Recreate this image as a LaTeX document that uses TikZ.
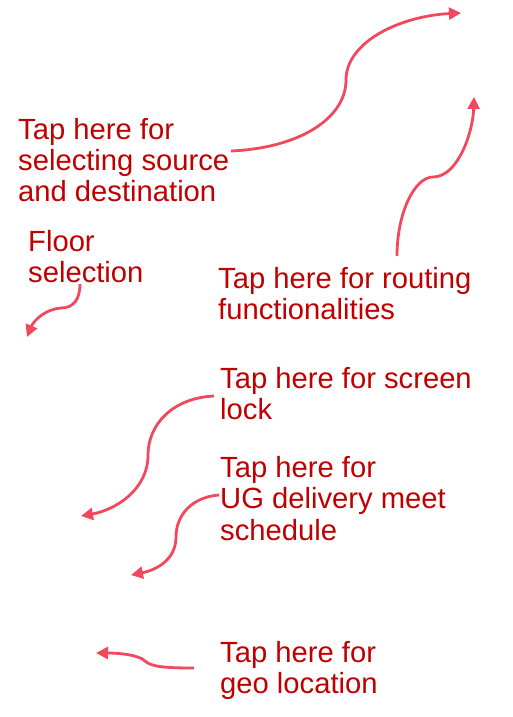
\documentclass[tikz,border=0pt]{standalone}
\usepackage{fontspec}
\setmainfont{Liberation Sans}
\usetikzlibrary{arrows.meta}
\definecolor{txtred}{RGB}{192,0,0}
\definecolor{arrred}{RGB}{242,72,94}
\tikzset{
  lbl/.style={anchor=base west, inner sep=0pt, text=txtred, font=\fontsize{29.2}{31.3}\selectfont},
  callout/.style={draw=arrred, line width=2.8pt, -{Triangle[length=12pt,width=12pt]}},
}
\newcommand{\twolines}[2]{\vtop{\baselineskip=31.3pt\hbox{\strut #1}\hbox{\strut #2}}}
\newcommand{\threelines}[3]{\vtop{\baselineskip=31.3pt\hbox{\strut #1}\hbox{\strut #2}\hbox{\strut #3}}}
\begin{document}
\begin{tikzpicture}[x=1pt,y=-1pt]
\useasboundingbox (0,0) rectangle (512,717);
% labels
\node[lbl] (src) at (18,139) {\threelines{Tap here for}{selecting source}{and destination}};
\node[lbl] (floor) at (28,251) {\twolines{Floor}{selection}};
\node[lbl] (route) at (218,288) {\twolines{Tap here for routing}{functionalities}};
\node[lbl] (lock) at (220,388) {\twolines{Tap here for screen}{lock}};
\node[lbl] (ug) at (220,477.5) {\threelines{Tap here for}{UG delivery meet}{schedule}};
\node[lbl] (geo) at (220,662) {\twolines{Tap here for}{geo location}};
% connector end/start points
\coordinate (srcS) at (231,151);
\coordinate (srcM) at (346,80);
\coordinate (srcT) at (461,13);
\coordinate (routeS) at (397,256);
\coordinate (routeM) at (433,177);
\coordinate (routeT) at (474,97);
\coordinate (floorS) at (80,284);
\coordinate (floorM) at (61,308);
\coordinate (floorT) at (27,337);
\coordinate (lockS) at (214,396);
\coordinate (lockM) at (148,455);
\coordinate (lockT) at (81,516);
\coordinate (ugS) at (219,495);
\coordinate (ugM) at (176,537);
\coordinate (ugT) at (131,575);
\coordinate (geoS) at (194,668);
\coordinate (geoM) at (145,661);
\coordinate (geoT) at (96,653);
% connectors
\draw[callout] (srcS) .. controls (300,148) and (346,118) .. (srcM) .. controls (346,42) and (400,16) .. (srcT);
\draw[callout] (routeS) .. controls (397,212) and (415,177) .. (routeM) .. controls (458,177) and (473,132) .. (routeT);
\draw[callout] (floorS) .. controls (80,300) and (73,308) .. (floorM) .. controls (46,309) and (34,320) .. (floorT);
\draw[callout] (lockS) .. controls (172,398) and (148,425) .. (lockM) .. controls (148,490) and (115,510) .. (lockT);
\draw[callout] (ugS) .. controls (192,497) and (176,515) .. (ugM) .. controls (176,560) and (156,570) .. (ugT);
\draw[callout] (geoS) .. controls (167,668) and (151,667) .. (geoM) .. controls (139,655) and (120,653) .. (geoT);
\end{tikzpicture}
\end{document}
